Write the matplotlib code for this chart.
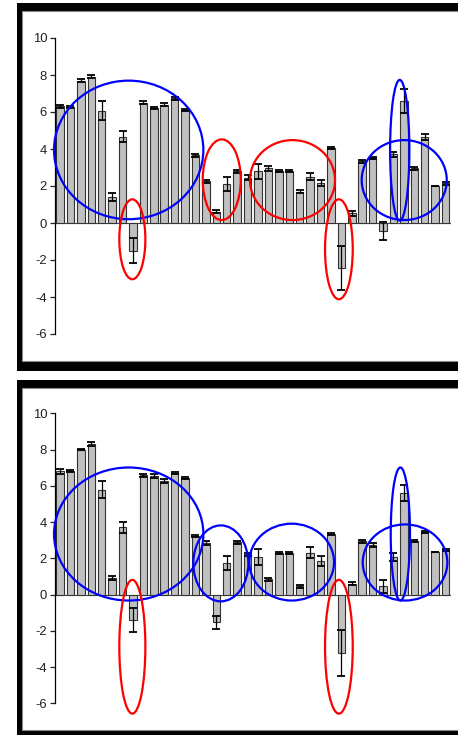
import matplotlib.pyplot as plt
from matplotlib.patches import Ellipse, Rectangle

plt.rcParams['font.family'] = ['Liberation Sans', 'DejaVu Sans']
plt.rcParams['axes.unicode_minus'] = False

# mean change per sample, upper and lower experiment
top_vals = [6.3, 6.25, 7.7, 7.9, 6.07, 1.42, 4.66, -1.5, 6.5, 6.2,
            6.4, 6.75, 6.1, 3.65, 2.25, 0.6, 2.12, 2.8, 2.45, 2.8,
            2.95, 2.8, 2.8, 1.7, 2.5, 2.15, 4.05, -2.45, 0.52, 3.35,
            3.5, -0.45, 3.72, 6.6, 2.95, 4.66, 2.0, 2.15]
top_err = [0.08, 0.06, 0.08, 0.08, 0.52, 0.22, 0.3, 0.67, 0.08, 0.06,
           0.08, 0.08, 0.06, 0.08, 0.1, 0.08, 0.38, 0.08, 0.12, 0.4,
           0.12, 0.06, 0.05, 0.08, 0.18, 0.15, 0.06, 1.19, 0.14, 0.08,
           0.06, 0.48, 0.14, 0.63, 0.06, 0.15, 0.0, 0.08]

bottom_vals = [6.8, 6.8, 8.0, 8.3, 5.78, 0.92, 3.7, -1.41, 6.58, 6.55,
               6.27, 6.7, 6.45, 3.25, 2.85, -1.53, 1.75, 2.88, 2.22, 2.08,
               0.85, 2.3, 2.3, 0.45, 2.3, 1.85, 3.35, -3.2, 0.6, 2.95,
               2.72, 0.45, 2.05, 5.6, 2.95, 3.45, 2.35, 2.45]
bottom_err = [0.13, 0.05, 0.05, 0.12, 0.46, 0.1, 0.3, 0.67, 0.08, 0.1,
              0.12, 0.05, 0.05, 0.05, 0.1, 0.37, 0.38, 0.07, 0.08, 0.45,
              0.08, 0.07, 0.05, 0.08, 0.3, 0.26, 0.05, 1.27, 0.1, 0.08,
              0.1, 0.36, 0.22, 0.42, 0.05, 0.08, 0.0, 0.06]

yticks = [-6, -4, -2, 0, 2, 4, 6, 8, 10]

# highlighted groups: (x centre, y centre, width, height, colour)
top_marks = [
    (6.59, 3.95, 14.33, 7.49, 'blue'),
    (6.94, -0.88, 2.5, 4.32, 'red'),
    (15.52, 2.34, 3.65, 4.36, 'red'),
    (22.31, 2.32, 8.16, 4.32, 'red'),
    (26.76, -1.42, 2.66, 5.4, 'red'),
    (33.03, 2.32, 8.16, 4.32, 'blue'),
    (32.6, 3.93, 1.85, 7.61, 'blue'),
]
bottom_marks = [
    (6.59, 3.34, 14.33, 7.34, 'blue'),
    (6.94, -2.88, 2.5, 7.38, 'red'),
    (15.43, 1.72, 5.28, 4.19, 'blue'),
    (22.23, 1.79, 8.13, 4.24, 'blue'),
    (26.76, -2.88, 2.66, 7.38, 'red'),
    (33.11, 1.77, 8.12, 4.2, 'blue'),
    (32.66, 3.34, 1.85, 7.34, 'blue'),
]

W, H = 458, 735
fig = plt.figure(figsize=(W / 100, H / 100), dpi=100)


def frame(x0, y0, x1, y1, inner):
    # black border box given in pixels from the top-left corner
    fig.add_artist(Rectangle((x0 / W, 1 - y1 / H), (x1 - x0) / W, (y1 - y0) / H,
                             transform=fig.transFigure, facecolor='black',
                             edgecolor='none', zorder=0))
    ix0, iy0, ix1, iy1 = inner
    fig.add_artist(Rectangle((ix0 / W, 1 - iy1 / H), (ix1 - ix0) / W, (iy1 - iy0) / H,
                             transform=fig.transFigure, facecolor='white',
                             edgecolor='#8a8a8a', linewidth=0.8, zorder=0))


frame(17, 3, 475, 371, (22, 11, 470, 361))
frame(17, 380, 475, 745, (22, 388, 470, 730))


def panel(rect, vals, errs, marks):
    ax = fig.add_axes(rect)
    ax.patch.set_alpha(0)
    x = list(range(len(vals)))
    ax.bar(x, vals, width=0.72, color='#c0c0c0', edgecolor='#333333',
           linewidth=0.8, zorder=2)
    ax.errorbar(x, vals, yerr=errs, fmt='none', ecolor='black',
                elinewidth=0.9, capsize=2.8, capthick=1.3, zorder=3)
    ax.axhline(0, color='#444444', linewidth=0.8, zorder=1)
    for cx, cy, w, h, c in marks:
        ax.add_patch(Ellipse((cx, cy), w, h, fill=False, edgecolor=c,
                             linewidth=1.6, zorder=4, clip_on=False))
    ax.set_xlim(-0.5, len(vals) - 0.5)
    ax.set_ylim(-6, 10)
    ax.set_yticks(yticks)
    ax.set_xticks([])
    for side in ['top', 'right', 'bottom']:
        ax.spines[side].set_visible(False)
    ax.spines['left'].set_linewidth(0.9)
    ax.tick_params(axis='y', length=3.6, width=0.9, pad=2, labelsize=9.4,
                   colors='#222222')
    return ax


panel([54.8 / W, 1 - 334 / H, 396 / W, 296 / H], top_vals, top_err, top_marks)
panel([54.8 / W, 1 - 703.3 / H, 396 / W, 290 / H], bottom_vals, bottom_err, bottom_marks)

fig.savefig('out.png', dpi=100)
plt.close(fig)
